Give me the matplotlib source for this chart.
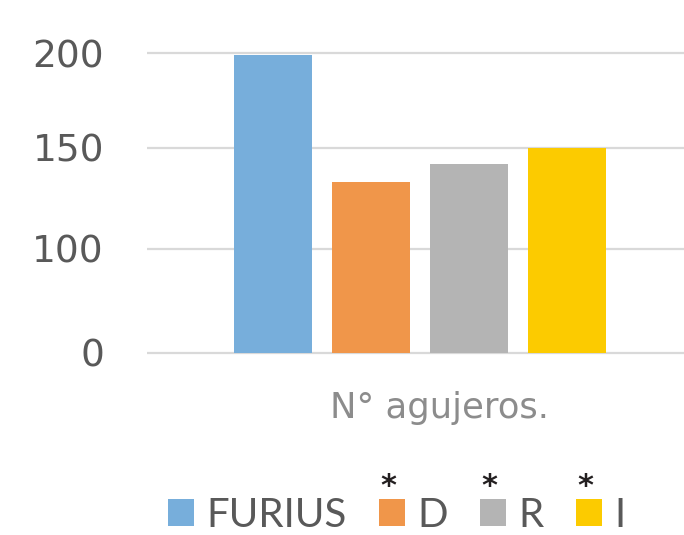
import numpy as np
import matplotlib
matplotlib.use('Agg')
import matplotlib.pyplot as plt
from matplotlib.patches import Patch

series = ['FURIUS', 'D', 'R', 'I']
values = [199, 133, 142, 150]
starred = [False, True, True, True]
category = 'N° agujeros.'
yticks = [0, 100, 150, 200]
colors = ['#77aedb', '#f0964a', '#b4b4b4', '#fccb00']

# the source axis is not evenly spaced between its ticks
knots_v = [-50, 0, 100, 150, 200, 250]
knots_p = [-51.85, 0, 103.7, 205, 299.4, 393.8]


def fwd(v):
    return np.interp(v, knots_v, knots_p)


def inv(p):
    return np.interp(p, knots_p, knots_v)


fig = plt.figure(figsize=(6.84, 5.35), dpi=100)
ax = fig.add_axes([0.2149, 0.3350, 0.7851, 0.5761])
ax.set_yscale('function', functions=(fwd, inv))
ax.set_ylim(-3, 203)
ax.set_xlim(-1.286, 4.194)

x = np.arange(len(series))
ax.bar(x, values, width=0.8, color=colors, zorder=3)

ax.set_yticks(yticks)
ax.set_yticklabels([str(t) for t in yticks])
ax.yaxis.set_minor_locator(matplotlib.ticker.NullLocator())
ax.set_xticks([])
ax.grid(axis='y', color='#d9d9d9', linewidth=1.6, zorder=0)
for s in ax.spines.values():
    s.set_visible(False)
ax.tick_params(axis='y', length=0, pad=31, labelsize=27, labelcolor='#595959')

fig.text(0.642, 0.238, category, ha='center', va='center', fontsize=25.5,
         color='#8c8c8c')

handles = [Patch(facecolor=c, edgecolor='none') for c in colors]
leg = fig.legend(handles, series, loc='center', bbox_to_anchor=(0.58, 0.037),
                 ncol=4, frameon=False, handlelength=0.65,
                 handleheight=0.65, handletextpad=0.3, columnspacing=0.8,
                 prop={'family': 'Lato', 'size': 29})
for t in leg.get_texts():
    t.set_color('#595959')

fig.canvas.draw()
inv_fig = fig.transFigure.inverted()
for h, star in zip(leg.legend_handles, starred):
    if star:
        bb = h.get_window_extent()
        xc, yc = inv_fig.transform(((bb.x0 + bb.x1) / 2 - 4, bb.y1 + 4))
        fig.text(xc, yc, '*', ha='center', va='baseline', fontsize=22,
                 color='#231f20', fontweight='bold')

fig.savefig('out.png', dpi=100)
